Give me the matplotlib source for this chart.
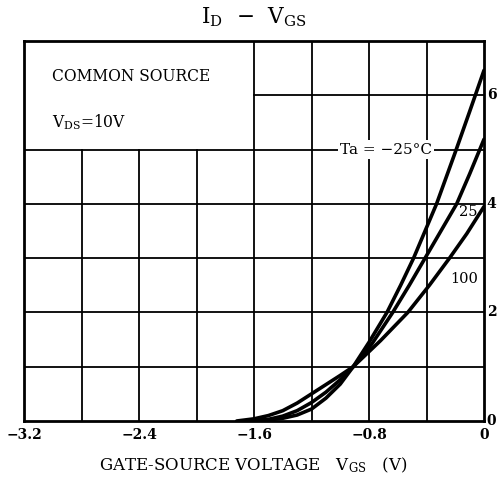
import matplotlib
matplotlib.use("Agg")
import matplotlib.pyplot as plt

plt.rcParams['font.family'] = ['DejaVu Serif']
plt.rcParams['mathtext.fontset'] = 'dejavuserif'

# Data
vgs_m25 = [-1.62, -1.5, -1.4, -1.3, -1.2, -1.1, -1.0, -0.91, -0.8, -0.675, -0.58, -0.49, -0.41, -0.33, -0.2, -0.1, 0.0]
id_m25 = [0.0, 0.02, 0.05, 0.11, 0.22, 0.42, 0.68, 1.0, 1.45, 2.0, 2.5, 3.0, 3.5, 4.0, 4.95, 5.7, 6.46]

vgs_25 = [-1.68, -1.6, -1.5, -1.4, -1.3, -1.2, -1.1, -1.0, -0.91, -0.78, -0.635, -0.52, -0.41, -0.3, -0.19, -0.1, 0.0]
id_25 = [0.0, 0.01, 0.03, 0.09, 0.19, 0.34, 0.53, 0.76, 1.0, 1.42, 2.0, 2.5, 3.0, 3.5, 4.0, 4.55, 5.19]

vgs_100 = [-1.72, -1.6, -1.5, -1.4, -1.3, -1.2, -1.1, -1.0, -0.91, -0.72, -0.53, -0.38, -0.24, -0.12, 0.0]
id_100 = [0.0, 0.04, 0.1, 0.19, 0.33, 0.5, 0.67, 0.84, 1.0, 1.48, 2.0, 2.5, 3.0, 3.45, 3.95]

xticks = [-3.2, -2.4, -1.6, -0.8, 0]
xticklabels = ['\u22123.2', '\u22122.4', '\u22121.6', '\u22120.8', '0']
yticks = [0, 2, 4, 6]
yticklabels = ['0', '2', '4', '6']

fig = plt.figure(figsize=(4.98, 4.88), dpi=100)
ax = fig.add_axes([0.0482, 0.1373, 0.9237, 0.7787])
ax.set_xlim(-3.2, 0)
ax.set_ylim(0, 7)

grid_kw = dict(color='black', linewidth=1.3, zorder=1)
# vertical grid lines
for xv in [-2.8, -2.4, -2.0]:
    ax.plot([xv, xv], [0, 5], **grid_kw)
for xv in [-1.6, -1.2, -0.8, -0.4]:
    ax.plot([xv, xv], [0, 7], **grid_kw)
# horizontal grid lines
for yv in [1, 2, 3, 4, 5]:
    ax.plot([-3.2, 0], [yv, yv], **grid_kw)
ax.plot([-1.6, 0], [6, 6], **grid_kw)

line_kw = dict(color='black', linewidth=2.6, zorder=3, solid_capstyle='round', solid_joinstyle='round')
ax.plot(vgs_m25, id_m25, **line_kw)
ax.plot(vgs_25, id_25, **line_kw)
ax.plot(vgs_100, id_100, **line_kw)

for s in ax.spines.values():
    s.set_linewidth(2.0)
    s.set_color('black')

ax.set_xticks(xticks)
ax.set_xticklabels(xticklabels, fontsize=10, fontweight='bold')
ax.set_yticks(yticks)
ax.set_yticklabels(yticklabels, fontsize=10, fontweight='bold')
ax.yaxis.tick_right()
ax.tick_params(axis='both', length=0)
ax.tick_params(axis='x', pad=5)
ax.tick_params(axis='y', pad=2)
for lab in ax.get_yticklabels():
    lab.set_verticalalignment('center')

ax.text(-3.005, 6.34, 'COMMON SOURCE', fontsize=11.2, ha='left', va='center', zorder=4)
ax.text(-3.005, 5.5, r'$\mathrm{V_{DS}}$=10V', fontsize=11.2, ha='left', va='center', zorder=4)
ax.text(-1.0, 5.0, 'Ta = \u221225\u00b0C', fontsize=11, ha='left', va='center', zorder=4,
        bbox=dict(facecolor='white', edgecolor='none', pad=1.5))
ax.text(-0.11, 3.85, '25', fontsize=10.5, ha='center', va='center', zorder=4)
ax.text(-0.14, 2.61, '100', fontsize=10.5, ha='center', va='center', zorder=4)

fig.text(0.509, 0.965, r'$\mathrm{I_D}$  ' + '\u2212' + r'  $\mathrm{V_{GS}}$', fontsize=15.5, ha='center', va='center')
fig.text(0.509, 0.047, r'GATE-SOURCE VOLTAGE   $\mathrm{V_{GS}}$   (V)', fontsize=12, ha='center', va='center')

fig.savefig('out.png', dpi=100)
